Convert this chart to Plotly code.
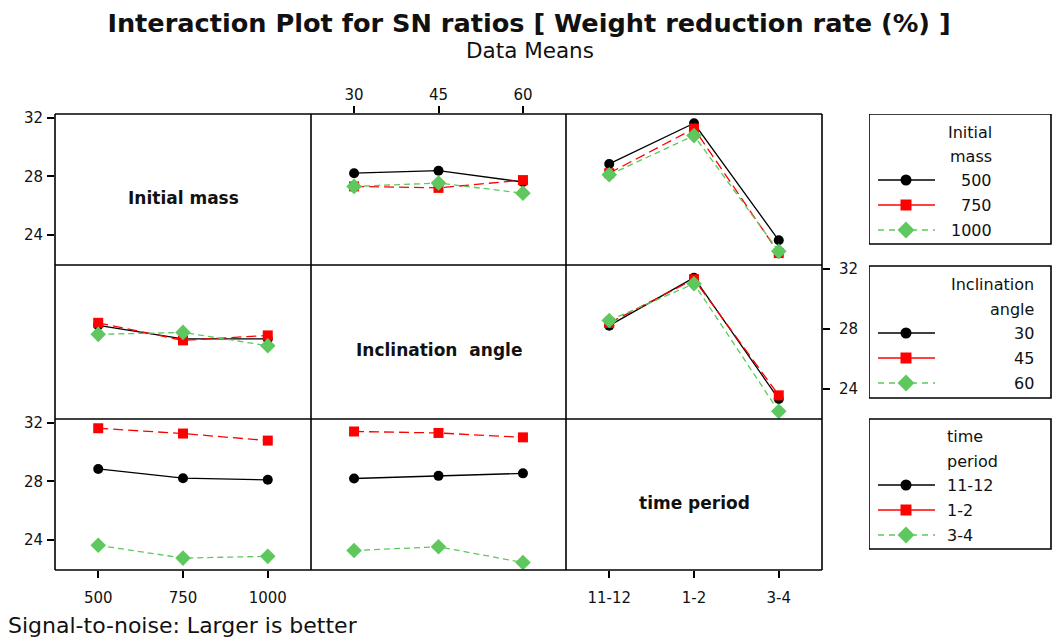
import plotly.graph_objects as go

# ---------------- data ----------------
factor_names = ["Initial mass", "Inclination  angle", "time period"]
legend_titles = ["Initial<br>mass", "Inclination<br>angle", "time<br>period"]
mass_levels = ["500", "750", "1000"]
angle_levels = ["30", "45", "60"]
time_levels = ["11-12", "1-2", "3-4"]
levels = [mass_levels, angle_levels, time_levels]

# SN ratio means, rows = first factor level, cols = second factor level
sn_mass_angle = [[28.22, 28.39, 27.62],
                 [27.32, 27.22, 27.75],
                 [27.32, 27.55, 26.86]]
sn_mass_time = [[28.85, 31.62, 23.65],
                [28.22, 31.26, 22.78],
                [28.11, 30.78, 22.90]]
sn_angle_time = [[28.20, 31.40, 23.30],
                 [28.38, 31.30, 23.55],
                 [28.55, 31.00, 22.48]]

series_colors = ["#000000", "#ff0000", "#5ec85e"]
series_dash = ["solid", "10px,5px", "6px,4px"]
series_symbol = ["circle", "square", "diamond"]
series_size = [10, 10, 12]

FONT = "DejaVu Sans"
TXT = "#111111"
W, H = 1052, 641
ML, MR, MT, MB = 55, 0, 114, 71
PW, PH = W - ML - MR, H - MT - MB


def px(x):
    return (x - ML) / PW


def py(y):
    return (H - MB - y) / PH


def pair_matrix(r, c):
    """values[i][j]: trace level i of factor r, x level j of factor c"""
    tbl = {(0, 1): sn_mass_angle, (0, 2): sn_mass_time, (1, 2): sn_angle_time}
    if (r, c) in tbl:
        return tbl[(r, c)]
    m = tbl[(c, r)]
    return [[m[j][i] for j in range(3)] for i in range(3)]


col_px = [(55, 311), (311, 566), (566, 822)]
row_px = [(114, 265), (265, 419), (419, 570)]
YR = [21.97, 32.25]
XR = [-0.51, 2.51]

fig = go.Figure()
layout = {}
annotations = []
shapes = []

for r in range(3):
    for c in range(3):
        k = r * 3 + c + 1
        xa = "xaxis" if k == 1 else f"xaxis{k}"
        ya = "yaxis" if k == 1 else f"yaxis{k}"
        xr = "x" if k == 1 else f"x{k}"
        yr = "y" if k == 1 else f"y{k}"
        show_x = (r, c) in [(0, 1), (2, 0), (2, 2)]
        show_y = (r, c) in [(0, 0), (2, 0), (1, 2)]
        layout[xa] = dict(
            domain=[px(col_px[c][0]), px(col_px[c][1])], anchor=yr,
            range=XR, showgrid=False, zeroline=False, showline=False,
            tickvals=[0, 1, 2], ticktext=levels[c],
            showticklabels=show_x, ticks="outside" if show_x else "",
            ticklen=7, tickwidth=1.5, tickcolor="black",
            ticklabelstandoff=0 if r == 0 else 7,
            side="top" if r == 0 else "bottom",
            tickfont=dict(family=FONT, size=15, color=TXT),
            fixedrange=True,
        )
        layout[ya] = dict(
            domain=[py(row_px[r][1]), py(row_px[r][0])], anchor=xr,
            range=YR, showgrid=False, zeroline=False, showline=False,
            tickvals=[24, 28, 32],
            showticklabels=show_y, ticks="outside" if show_y else "",
            ticklen=7, tickwidth=1.5, tickcolor="black",
            ticklabelstandoff=6 if (r, c) == (1, 2) else 1,
            side="right" if (r, c) == (1, 2) else "left",
            tickfont=dict(family=FONT, size=15, color=TXT),
            fixedrange=True,
        )
        if r == c:
            # empty trace so the diagonal cell's axes are created
            fig.add_trace(go.Scatter(x=[], y=[], xaxis=xr, yaxis=yr,
                                     showlegend=False, hoverinfo="skip"))
            annotations.append(dict(
                text=f"<b>{factor_names[r]}</b>", xref="paper", yref="paper",
                x=px(sum(col_px[c]) / 2), y=py(sum(row_px[r]) / 2 + 8),
                showarrow=False, xanchor="center", yanchor="middle",
                font=dict(family=FONT, size=17, color=TXT)))
            continue
        vals = pair_matrix(r, c)
        for i in range(3):
            fig.add_trace(go.Scatter(
                x=[0, 1, 2], y=vals[i], xaxis=xr, yaxis=yr,
                mode="lines+markers", showlegend=False,
                line=dict(color=series_colors[i], width=1.3, dash=series_dash[i]),
                marker=dict(symbol=series_symbol[i], size=series_size[i],
                            color=series_colors[i], line=dict(width=0)),
            ))

# grid frame
for xv in [55, 311, 566, 822]:
    shapes.append(dict(type="line", xref="paper", yref="paper",
                       x0=px(xv), x1=px(xv), y0=py(570), y1=py(114),
                       line=dict(color="black", width=1.6)))
for yv in [114, 265, 419, 570]:
    shapes.append(dict(type="line", xref="paper", yref="paper",
                       x0=px(55), x1=px(822), y0=py(yv), y1=py(yv),
                       line=dict(color="black", width=1.6)))

# ---------------- manual legends ----------------
layout["xaxis10"] = dict(domain=[px(869), 1.0], range=[869, 1052], visible=False,
                         anchor="y10", fixedrange=True)
layout["yaxis10"] = dict(domain=[0, 1], range=[H - MB, MT], visible=False,
                         anchor="x10", fixedrange=True)

box_y = [(114, 244), (266, 398), (419, 549)]
title_y = [(132, 156), (284, 309), (436, 461)]
entry_y = [(180, 205, 230), (333, 358, 383), (485, 510, 535)]
text_x = [(994, "right"), (1036, "right"), (945, "left")]

for b in range(3):
    shapes.append(dict(type="rect", xref="x10", yref="y10",
                       x0=869, x1=1051, y0=box_y[b][0], y1=box_y[b][1],
                       line=dict(color="black", width=1.6), fillcolor="rgba(0,0,0,0)"))
    tlines = legend_titles[b].split("<br>")
    for t, ty in zip(tlines, title_y[b]):
        annotations.append(dict(text=t, xref="x10", yref="y10", x=text_x[b][0], y=ty,
                                xanchor=text_x[b][1], yanchor="middle", showarrow=False,
                                font=dict(family=FONT, size=16, color=TXT)))
    for i in range(3):
        ey = entry_y[b][i]
        fig.add_trace(go.Scatter(
            x=[878, 935], y=[ey, ey], xaxis="x10", yaxis="y10", mode="lines",
            showlegend=False, hoverinfo="skip",
            line=dict(color=series_colors[i], width=1.3,
                      dash="solid" if i < 2 else "6px,5px")))
        fig.add_trace(go.Scatter(
            x=[906], y=[ey], xaxis="x10", yaxis="y10", mode="markers",
            showlegend=False, hoverinfo="skip",
            marker=dict(symbol=series_symbol[i], size=series_size[i] + 1,
                        color=series_colors[i], line=dict(width=0))))
        annotations.append(dict(text=levels[b][i], xref="x10", yref="y10",
                                x=text_x[b][0], y=ey, xanchor=text_x[b][1],
                                yanchor="middle", showarrow=False,
                                font=dict(family=FONT, size=16, color=TXT)))

# ---------------- titles ----------------
annotations.append(dict(text="Data Means", xref="paper", yref="paper",
                        x=px(530), y=py(50), xanchor="center", yanchor="middle",
                        showarrow=False, font=dict(family=FONT, size=21.5, color=TXT)))
annotations.append(dict(text="Signal-to-noise: Larger is better", xref="paper", yref="paper",
                        x=px(6), y=py(625), xanchor="left", yanchor="middle",
                        showarrow=False, font=dict(family=FONT, size=22, color=TXT)))

fig.update_layout(
    width=W, height=H,
    margin=dict(l=ML, r=MR, t=MT, b=MB, pad=0),
    paper_bgcolor="white", plot_bgcolor="white",
    title=dict(text="<b>Interaction Plot for SN ratios [ Weight reduction rate (%) ]</b>",
               x=529 / W, xanchor="center", y=1 - 23 / H, yanchor="middle",
               font=dict(family=FONT, size=25.6, color=TXT)),
    annotations=annotations, shapes=shapes,
    **layout,
)

fig.write_html("out.html", config={"displayModeBar": False},
               post_script="document.body.style.margin='0';document.body.style.overflow='hidden';")
